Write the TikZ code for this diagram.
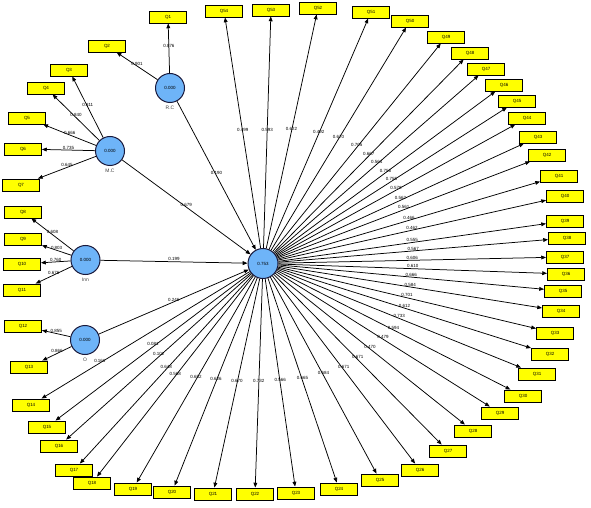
\documentclass[tikz,border=0pt]{standalone}
\usepackage{fontspec}
\setmainfont{Liberation Sans}
\usetikzlibrary{arrows.meta}
\definecolor{lvblue}{RGB}{110,180,248}
\definecolor{lvline}{RGB}{25,25,60}
\definecolor{mvyellow}{RGB}{255,255,0}
\begin{document}
\begin{tikzpicture}[x=1bp,y=-1bp,
  ind/.style={draw=black, line width=0.9bp, fill=mvyellow, minimum width=37bp, minimum height=12bp, inner sep=0pt, font=\fontsize{4.5}{5}\selectfont},
  lv/.style={circle, draw=lvline, line width=1bp, fill=lvblue, minimum size=29bp, inner sep=0pt, font=\fontsize{4.5}{5}\selectfont},
  lvname/.style={font=\fontsize{5}{6}\selectfont, text=black!75, inner sep=0pt},
  ld/.style={font=\fontsize{4.5}{5}\selectfont, inner sep=0.4bp, above},
  arr/.style={draw=black, line width=0.75bp, -{Triangle[length=4.8bp,width=3.8bp]}}
]
\useasboundingbox (0,0) rectangle (591,508);
\fill[white] (0,0) rectangle (591,508);

% latent variables
\node[lv] (RC) at (170,88) {0.000};
\node[lv] (MC) at (110,151) {0.000};
\node[lv] (Inn) at (85.5,260) {0.000};
\node[lv] (O) at (85,340) {0.000};
\node[lv, minimum size=30bp] (C) at (263,263.5) {0.753};

\node[lvname, below=3bp] (RCn) at (RC.south) {R.C};
\node[lvname, below=3bp] (MCn) at (MC.south) {M.C};
\node[lvname, below=3bp] (Innn) at (Inn.south) {Inn};
\node[lvname, below=3bp] (On) at (O.south) {O};

% indicators of the exogenous constructs
\foreach \n/\x/\y/\l/\s in {1/168/17/0.876/RC, 2/107/46/0.901/RC,
  3/69/70/0.811/MC, 4/46/88/0.840/MC, 5/27/118/0.666/MC, 6/23/149/0.735/MC, 7/21/185/0.645/MC,
  8/23/212/0.608/Inn, 9/23/239/0.803/Inn, 10/22/264/0.760/Inn, 11/22/290/0.676/Inn,
  12/23/326/0.855/O, 13/29/367/0.866/O}{
  \node[ind] (Q\n) at (\x,\y) {Q\n};
  \draw[arr] (\s) -- node[ld, pos=0.5] {\l} (Q\n);
}

% structural paths
\draw[arr] (RC) -- node[ld, pos=0.5] {0.190} (C);
\draw[arr] (MC) -- node[ld, pos=0.5] {0.679} (C);
\draw[arr] (Inn) -- node[ld, pos=0.5] {0.199} (C);
\draw[arr] (O) -- node[ld, pos=0.5] {0.246} (C);

% indicators of the central construct
\foreach \n/\x/\y/\l/\p in {14/31/405/0.161/0.72, 15/47/427/0.081/0.5, 16/59/446/0.102/0.5,
  17/74/470/0.648/0.5, 18/92/483/0.568/0.5, 19/133/489/0.652/0.5, 20/172/492/0.626/0.5,
  21/213/494/0.670/0.5, 22/255/494/0.732/0.5, 23/296/493/0.566/0.5, 24/339/489/0.665/0.5,
  25/380/480/0.684/0.5, 26/420/470/0.671/0.5, 27/448/451/0.671/0.5, 28/473/431/0.470/0.5,
  29/500/413/0.479/0.5, 30/523/396/0.594/0.5, 31/537/374/0.733/0.5, 32/550/354/0.612/0.5,
  33/555/333/0.701/0.5, 34/561/311/0.584/0.5, 35/563/291/0.666/0.5, 36/566/274/0.610/0.5,
  37/565/257/0.606/0.5, 38/567/238/0.567/0.5, 39/565/221/0.555/0.5, 40/565/196/0.462/0.5,
  41/559/176/0.466/0.5, 42/547/155/0.561/0.5, 43/538/137/0.562/0.5, 44/527/118/0.578/0.5,
  45/517/101/0.755/0.5, 46/504/85/0.756/0.5, 47/486/69/0.564/0.5, 48/470/53/0.667/0.5,
  49/446/37/0.705/0.5, 50/410/21/0.670/0.5, 51/371/12/0.492/0.5, 52/318/8/0.622/0.5,
  53/271/10/0.593/0.5, 54/224/11/0.499/0.5}{
  \node[ind] (Q\n) at (\x,\y) {Q\n};
  \draw[arr] (C) -- node[ld, pos=\p] {\l} (Q\n);
}
\end{tikzpicture}
\end{document}
